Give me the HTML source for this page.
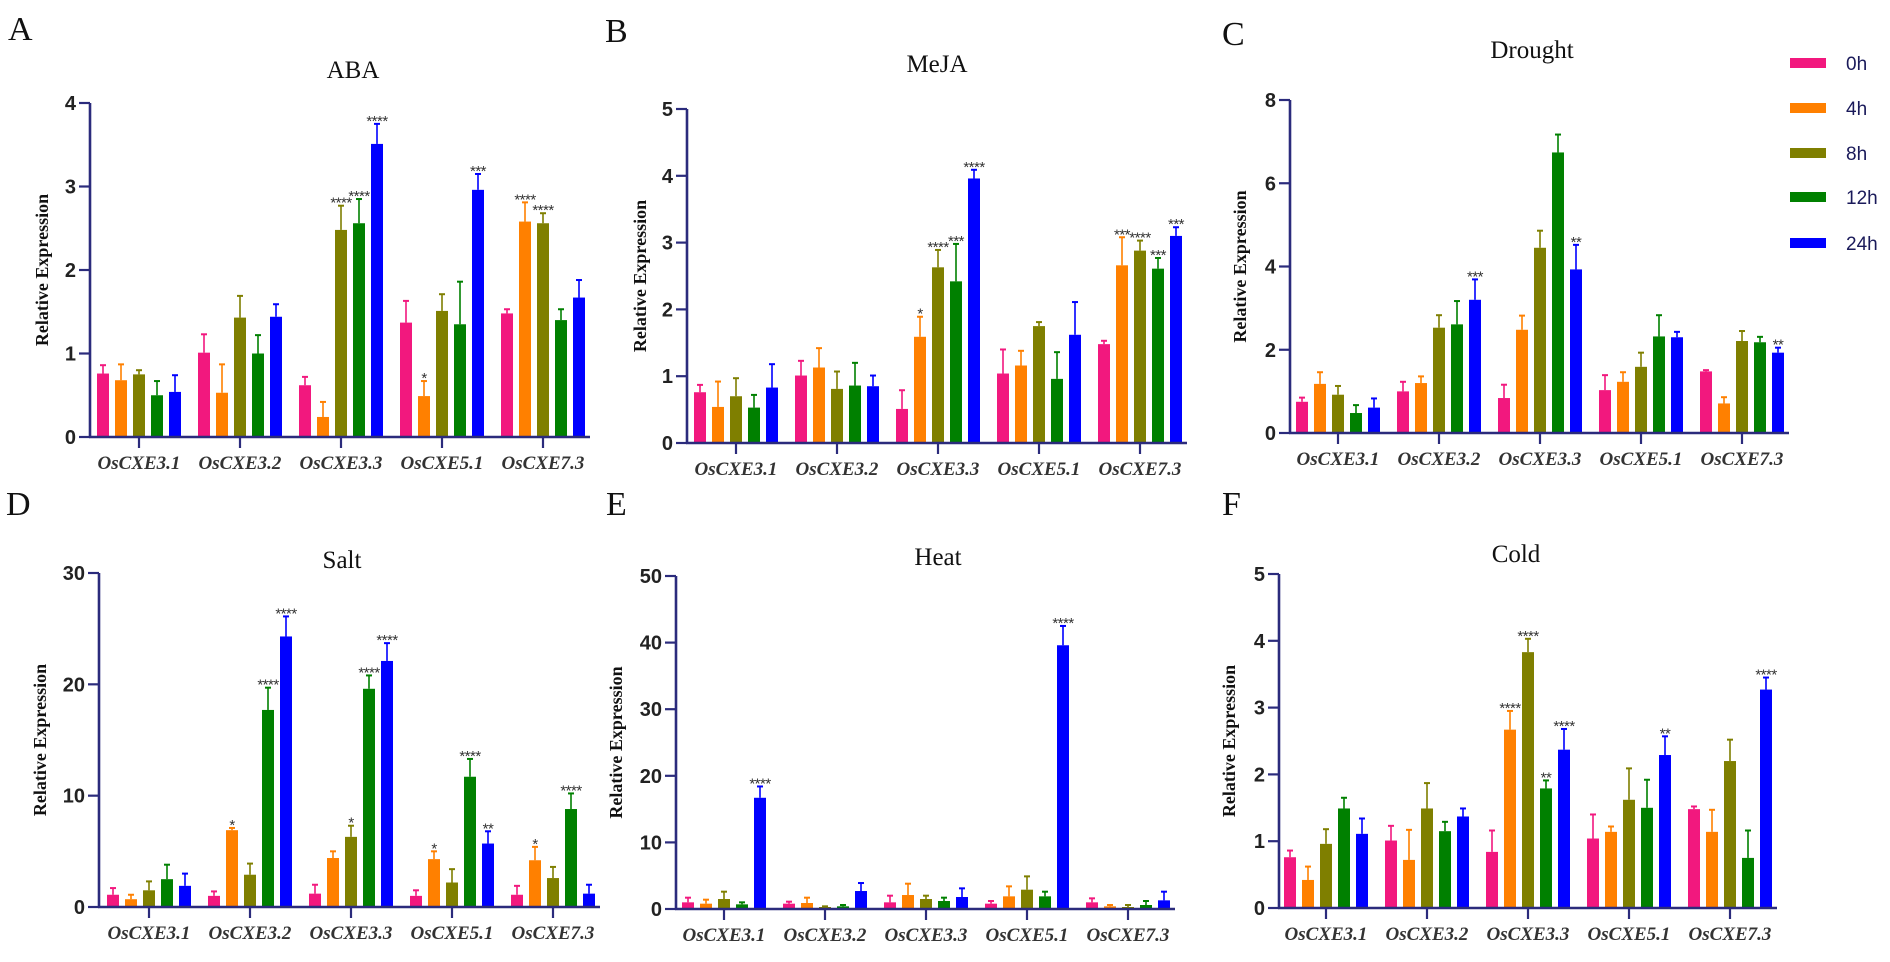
<!DOCTYPE html>
<html><head><meta charset="utf-8">
<style>
html,body{margin:0;padding:0;background:#fff;}
svg{display:block;}
</style></head>
<body>
<svg id="fig" width="1890" height="962" viewBox="0 0 1890 962" xmlns="http://www.w3.org/2000/svg"></svg>
<script>
const categories = ["OsCXE3.1","OsCXE3.2","OsCXE3.3","OsCXE5.1","OsCXE7.3"];
const seriesNames = ["0h","4h","8h","12h","24h"];
const seriesColors = ["#f2187e","#ff8000","#7f7f00","#008000","#0000ff"];

// ABA
const abaMean = [[0.76,0.68,0.75,0.50,0.54],[1.01,0.53,1.43,1.00,1.44],[0.62,0.24,2.48,2.56,3.51],[1.37,0.49,1.51,1.35,2.96],[1.48,2.58,2.56,1.40,1.67]];
const abaErr  = [[0.10,0.19,0.05,0.17,0.20],[0.22,0.34,0.26,0.22,0.15],[0.10,0.18,0.29,0.29,0.24],[0.26,0.18,0.20,0.51,0.19],[0.05,0.23,0.12,0.13,0.21]];
const abaSig  = [["","","","",""],["","","","",""],["","","****","****","****"],["","*","","","***"],["","****","****","",""]];
const abaTicks = [0,1,2,3,4];
// MeJA
const mejaMean = [[0.76,0.54,0.70,0.53,0.83],[1.01,1.13,0.81,0.86,0.85],[0.51,1.59,2.63,2.42,3.96],[1.04,1.16,1.75,0.96,1.62],[1.48,2.66,2.88,2.61,3.10]];
const mejaErr  = [[0.11,0.38,0.27,0.19,0.35],[0.22,0.29,0.26,0.34,0.16],[0.28,0.30,0.26,0.56,0.13],[0.36,0.22,0.06,0.40,0.49],[0.05,0.42,0.15,0.16,0.13]];
const mejaSig  = [["","","","",""],["","","","",""],["","*","****","***","****"],["","","","",""],["","***","****","***","***"]];
const mejaTicks = [0,1,2,3,4,5];
// Drought
const droughtMean = [[0.75,1.18,0.92,0.48,0.61],[1.00,1.20,2.53,2.61,3.20],[0.84,2.48,4.45,6.74,3.93],[1.03,1.23,1.59,2.32,2.30],[1.48,0.71,2.21,2.18,1.93]];
const droughtErr  = [[0.10,0.28,0.21,0.19,0.22],[0.23,0.16,0.30,0.56,0.49],[0.32,0.34,0.41,0.43,0.59],[0.36,0.23,0.34,0.51,0.13],[0.03,0.15,0.24,0.13,0.12]];
const droughtSig  = [["","","","",""],["","","","","***"],["","","","","**"],["","","","",""],["","","","","**"]];
const droughtTicks = [0,2,4,6,8];
// Salt
const saltMean = [[1.1,0.7,1.5,2.5,1.9],[1.0,6.9,2.9,17.7,24.3],[1.2,4.4,6.3,19.6,22.1],[1.0,4.3,2.2,11.7,5.7],[1.1,4.2,2.6,8.8,1.2]];
const saltErr  = [[0.6,0.4,0.8,1.3,1.1],[0.4,0.2,1.0,2.0,1.8],[0.8,0.6,1.0,1.2,1.6],[0.5,0.7,1.2,1.6,1.1],[0.8,1.2,1.0,1.4,0.8]];
const saltSig  = [["","","","",""],["","*","","****","****"],["","","*","****","****"],["","*","","****","**"],["","*","","****",""]];
const saltTicks = [0,10,20,30];
// Heat
const heatMean = [[1.0,0.8,1.5,0.7,16.7],[0.8,0.9,0.3,0.4,2.7],[1.0,2.1,1.5,1.2,1.8],[0.8,1.9,2.9,1.9,39.6],[1.0,0.4,0.3,0.6,1.3]];
const heatErr  = [[0.7,0.6,1.1,0.3,1.7],[0.3,0.8,0.1,0.2,1.2],[1.0,1.7,0.5,0.5,1.3],[0.4,1.5,2.0,0.7,2.9],[0.6,0.2,0.3,0.6,1.3]];
const heatSig  = [["","","","","****"],["","","","",""],["","","","",""],["","","","","****"],["","","","",""]];
const heatTicks = [0,10,20,30,40,50];
// Cold
const coldMean = [[0.76,0.42,0.96,1.49,1.11],[1.01,0.72,1.49,1.15,1.37],[0.84,2.67,3.83,1.79,2.37],[1.04,1.14,1.62,1.50,2.29],[1.48,1.14,2.20,0.75,3.27]];
const coldErr  = [[0.10,0.20,0.22,0.16,0.23],[0.22,0.45,0.38,0.14,0.12],[0.32,0.28,0.20,0.12,0.31],[0.36,0.08,0.47,0.42,0.28],[0.04,0.33,0.32,0.41,0.18]];
const coldSig  = [["","","","",""],["","","","",""],["","****","****","**","****"],["","","","","**"],["","","","","****"]];
const coldTicks = [0,1,2,3,4,5];

const NS = "http://www.w3.org/2000/svg";
const svg = document.getElementById("fig");
function mk(tag, attrs, parent, text){
  const e = document.createElementNS(NS, tag);
  for (const k in attrs) e.setAttribute(k, attrs[k]);
  if (text !== undefined) e.textContent = text;
  (parent || svg).appendChild(e);
  return e;
}
const AXIS = "#2b2b7c";

const panels = [
  {key:"aba", letter:"A", lx:8, ly:40, title:"ABA", tx:353, ty:78, ax:90, y0:437, ytop:103, max:4, mean:abaMean, err:abaErr, sig:abaSig, ticks:abaTicks, c1:139, ytx:42},
  {key:"meja", letter:"B", lx:605, ly:42, title:"MeJA", tx:937, ty:72, ax:687, y0:443, ytop:109, max:5, mean:mejaMean, err:mejaErr, sig:mejaSig, ticks:mejaTicks, c1:736, ytx:640},
  {key:"drought", letter:"C", lx:1222, ly:45, title:"Drought", tx:1532, ty:58, ax:1290, y0:433, ytop:100, max:8, mean:droughtMean, err:droughtErr, sig:droughtSig, ticks:droughtTicks, c1:1338, ytx:1240},
  {key:"salt", letter:"D", lx:6, ly:515, title:"Salt", tx:342, ty:568, ax:99, y0:907, ytop:573, max:30, mean:saltMean, err:saltErr, sig:saltSig, ticks:saltTicks, c1:149, ytx:40},
  {key:"heat", letter:"E", lx:606, ly:515, title:"Heat", tx:938, ty:565, ax:676, y0:909, ytop:576, max:50, mean:heatMean, err:heatErr, sig:heatSig, ticks:heatTicks, c1:724, ytx:616},
  {key:"cold", letter:"F", lx:1222, ly:515, title:"Cold", tx:1516, ty:562, ax:1279, y0:908, ytop:574, max:5, mean:coldMean, err:coldErr, sig:coldSig, ticks:coldTicks, c1:1326, ytx:1229}
];

panels.forEach(p => {
  const g = mk("g", {});
  
  
  const yScale = v => p.y0 - v / p.max * (p.y0 - p.ytop);
  const xCat = i => p.c1 + i * 101;
  const xEnd = xCat(4) + 47;

  const letter = mk("text", {x:p.lx, y:p.ly, "font-family":"Liberation Serif, serif", "font-size":34, fill:"#111"}, g, p.letter);
  
  
  const title = mk("text", {x:p.tx, y:p.ty, "text-anchor":"middle", "font-family":"Liberation Serif, serif", "font-size":25, fill:"#111"}, g, p.title);
  
  

  const ytitle = mk("text", {x:0, y:0, transform:`translate(${p.ytx + 6},${(p.y0 + p.ytop) / 2}) rotate(-90)`, "text-anchor":"middle", "font-family":"Liberation Serif, serif", "font-weight":"bold", "font-size":18, fill:"#111"}, g, "Relative Expression");
  
  

  p.mean.forEach((grp, ci) => {
    grp.forEach((v, si) => {
      const cx = xCat(ci) + (si - 2) * 18;
      const col = seriesColors[si];
      const top = yScale(v);
      const eTop = yScale(v + p.err[ci][si]);
      const eb = mk("line", {x1:cx, x2:cx, y1:top, y2:eTop, stroke:col, "stroke-width":1.6}, g);
      
      
      const cap = mk("line", {x1:cx - 3, x2:cx + 3, y1:eTop, y2:eTop, stroke:col, "stroke-width":2}, g);
      
      
      const bar = mk("rect", {x:cx - 6, y:top, width:12, height:p.y0 - top, fill:col}, g);
      
      
      const s = p.sig[ci][si];
      if (s) {
        const st = mk("text", {x:cx, y:eTop + 2, "text-anchor":"middle", "font-family":"Liberation Sans, sans-serif", "font-size":15, fill:"#333", "letter-spacing":"-0.5"}, g, s);
        
        
      }
    });
  });

  const yAxis = mk("line", {x1:p.ax, x2:p.ax, y1:p.ytop, y2:p.y0 + 1, stroke:AXIS, "stroke-width":2.6}, g);
  
  
  const xAxis = mk("line", {x1:p.ax - 1, x2:xEnd, y1:p.y0, y2:p.y0, stroke:AXIS, "stroke-width":2.6}, g);
  
  

  p.ticks.forEach(t => {
    const y = yScale(t);
    const tk = mk("line", {x1:p.ax - 11, x2:p.ax, y1:y, y2:y, stroke:AXIS, "stroke-width":2.2}, g);
    
    
    const tl = mk("text", {x:p.ax - 14, y:y + 7, "text-anchor":"end", "font-family":"Liberation Sans, sans-serif", "font-weight":"bold", "font-size":20, fill:"#222"}, g, String(t));
    
    
  });

  categories.forEach((c, i) => {
    const x = xCat(i);
    const tk = mk("line", {x1:x, x2:x, y1:p.y0, y2:p.y0 + 11, stroke:AXIS, "stroke-width":2.2}, g);
    
    
    const cl = mk("text", {x:x, y:p.y0 + 32, "text-anchor":"middle", "font-family":"Liberation Serif, serif", "font-weight":"bold", "font-style":"italic", "font-size":19, fill:"#333"}, g, c);
    
    
  });
});

const lg = mk("g", {});


const legendY = [63,108,153,197,243];
seriesNames.forEach((n, i) => {
  const sw = mk("rect", {x:1790, y:legendY[i] - 5, width:36, height:10, fill:seriesColors[i]}, lg);
  
  
  const t = mk("text", {x:1846, y:legendY[i] + 7, "font-family":"Liberation Sans, sans-serif", "font-size":19, fill:"#1a1a5a"}, lg, n);
  
  
});
</script>
</body></html>
